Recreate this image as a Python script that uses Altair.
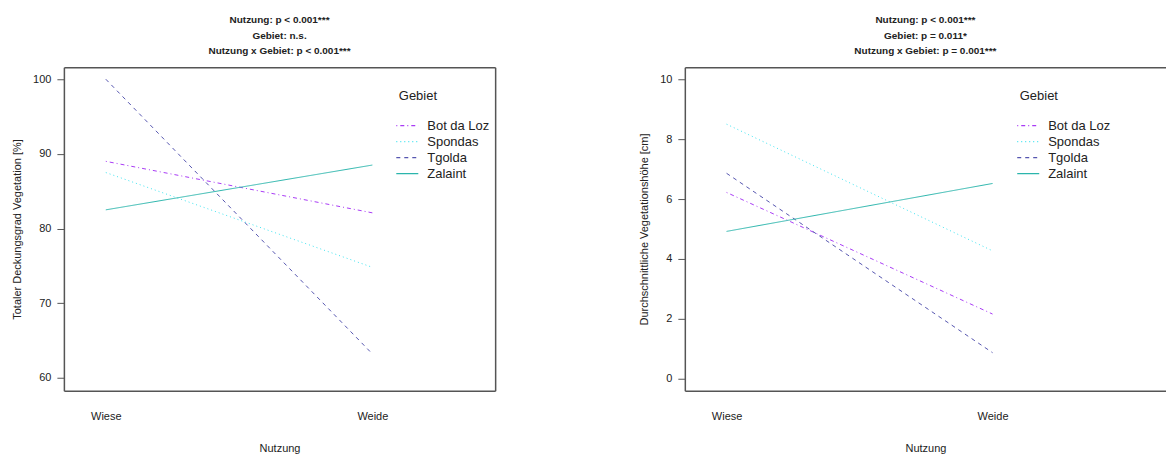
import altair as alt
import pandas as pd

# ---- data ----
nutzung = ["Wiese", "Weide"]
gebiete = ["Bot da Loz", "Spondas", "Tgolda", "Zalaint"]

deckung_wiese = [89.0, 87.5, 100.0, 82.5]
deckung_weide = [82.1, 74.8, 63.2, 88.5]

hoehe_wiese = [6.22, 8.5, 6.86, 4.92]
hoehe_weide = [2.16, 4.27, 0.87, 6.52]

deckung_ticks = [60, 70, 80, 90, 100]
hoehe_ticks = [0, 2, 4, 6, 8, 10]

titel_links = ["Nutzung: p < 0.001***", "Gebiet: n.s.", "Nutzung x Gebiet: p < 0.001***"]
titel_rechts = ["Nutzung: p < 0.001***", "Gebiet: p = 0.011*", "Nutzung x Gebiet: p = 0.001***"]

farben = ["#A93BF5", "#3EE3F0", "#5656B0", "#2BB5AC"]
striche = [[1, 3, 4, 3], [1, 3], [4, 4], [1, 0]]

FONT = "Liberation Sans"
BOX = "#555555"
TXT = "#222222"


def long_df(w, d):
    rows = []
    for g, a, b in zip(gebiete, w, d):
        rows.append({"Gebiet": g, "Nutzung": nutzung[0], "Wert": a})
        rows.append({"Gebiet": g, "Nutzung": nutzung[1], "Wert": b})
    return pd.DataFrame(rows)


def panel(w, d, ytitle, ydomain, yticks, titel, width, pad, align, right_border):
    df = long_df(w, d)
    legend = alt.Legend(
        orient="none", legendX=335.5, legendY=23, title="Gebiet",
        titleFontSize=13, titleFontWeight="normal", titleFont=FONT, titleColor=TXT,
        titlePadding=14, labelFontSize=13, labelFont=FONT, labelColor=TXT,
        symbolType="M-1.47,0H1.47", symbolSize=225, symbolStrokeWidth=1.2,
        labelOffset=11.5, rowPadding=-2,
    )
    x = alt.X(
        "Nutzung:N", sort=nutzung,
        scale=alt.Scale(type="point", padding=pad, align=align),
        axis=alt.Axis(
            title="Nutzung", orient="bottom", ticks=False, tickSize=0, labelAngle=0,
            labelPadding=20, titlePadding=21, domainColor=BOX, domainWidth=1.5,
            labelFontSize=11, titleFontSize=11, labelFont=FONT, titleFont=FONT,
            labelColor=TXT, titleColor=TXT, titleFontWeight="normal", grid=False,
        ),
    )
    y = alt.Y(
        "Wert:Q",
        scale=alt.Scale(domain=ydomain, nice=False, zero=False),
        axis=alt.Axis(
            values=yticks, title=ytitle, orient="left", tickSize=7, tickColor=BOX,
            tickWidth=1, labelPadding=6, titlePadding=10, domainColor=BOX,
            domainWidth=1.5, labelFontSize=11, titleFontSize=11, labelFont=FONT,
            titleFont=FONT, labelColor=TXT, titleColor=TXT,
            titleFontWeight="normal", grid=False,
        ),
    )
    lines = alt.Chart(df).mark_line(strokeWidth=1).encode(
        x=x, y=y,
        color=alt.Color("Gebiet:N", scale=alt.Scale(domain=gebiete, range=farben), legend=legend),
        strokeDash=alt.StrokeDash("Gebiet:N", scale=alt.Scale(domain=gebiete, range=striche), legend=legend),
    )
    yframe = (
        alt.Y("Wert:Q", axis=alt.Axis(orient="right", labels=False, ticks=False, title=None,
                                       domainColor=BOX, domainWidth=1.5, grid=False,
                                       minExtent=0, maxExtent=0))
        if right_border else alt.Y("Wert:Q", axis=None)
    )
    frame = alt.Chart(df).mark_line(opacity=0).encode(
        x=alt.X("Nutzung:N", sort=nutzung,
                axis=alt.Axis(orient="top", labels=False, ticks=False, title=None,
                              domainColor=BOX, domainWidth=1.5, grid=False,
                              minExtent=0, maxExtent=0)),
        y=yframe,
        detail="Gebiet:N",
    )
    return alt.layer(lines, frame).resolve_axis(x="independent", y="independent").properties(
        width=width, height=324,
        title=alt.TitleParams(titel, fontSize=10, fontWeight="bold", font=FONT, color=TXT,
                              anchor="middle", frame="group", offset=11, lineHeight=15.5),
    )


left = panel(deckung_wiese, deckung_weide, "Totaler Deckungsgrad Vegetation [%]",
             [58.27, 101.6], deckung_ticks, titel_links, 432, 0.309, 0.2545, True)
right = panel(hoehe_wiese, hoehe_weide, "Durchschnittliche Vegetationshöhe [cm]",
              [-0.4, 10.4], hoehe_ticks, titel_rechts, 482, 0.4045, 0.194, False)

chart = alt.hconcat(left, right, spacing=143).resolve_scale(
    x="independent", y="independent", color="independent", strokeDash="independent"
).resolve_legend(color="independent", strokeDash="independent").properties(
    padding={"left": 11, "top": 15, "right": 0, "bottom": 0},
).configure(font=FONT).configure_view(stroke=None)

chart.save("out.html", embed_options={"renderer": "svg", "actions": False})
